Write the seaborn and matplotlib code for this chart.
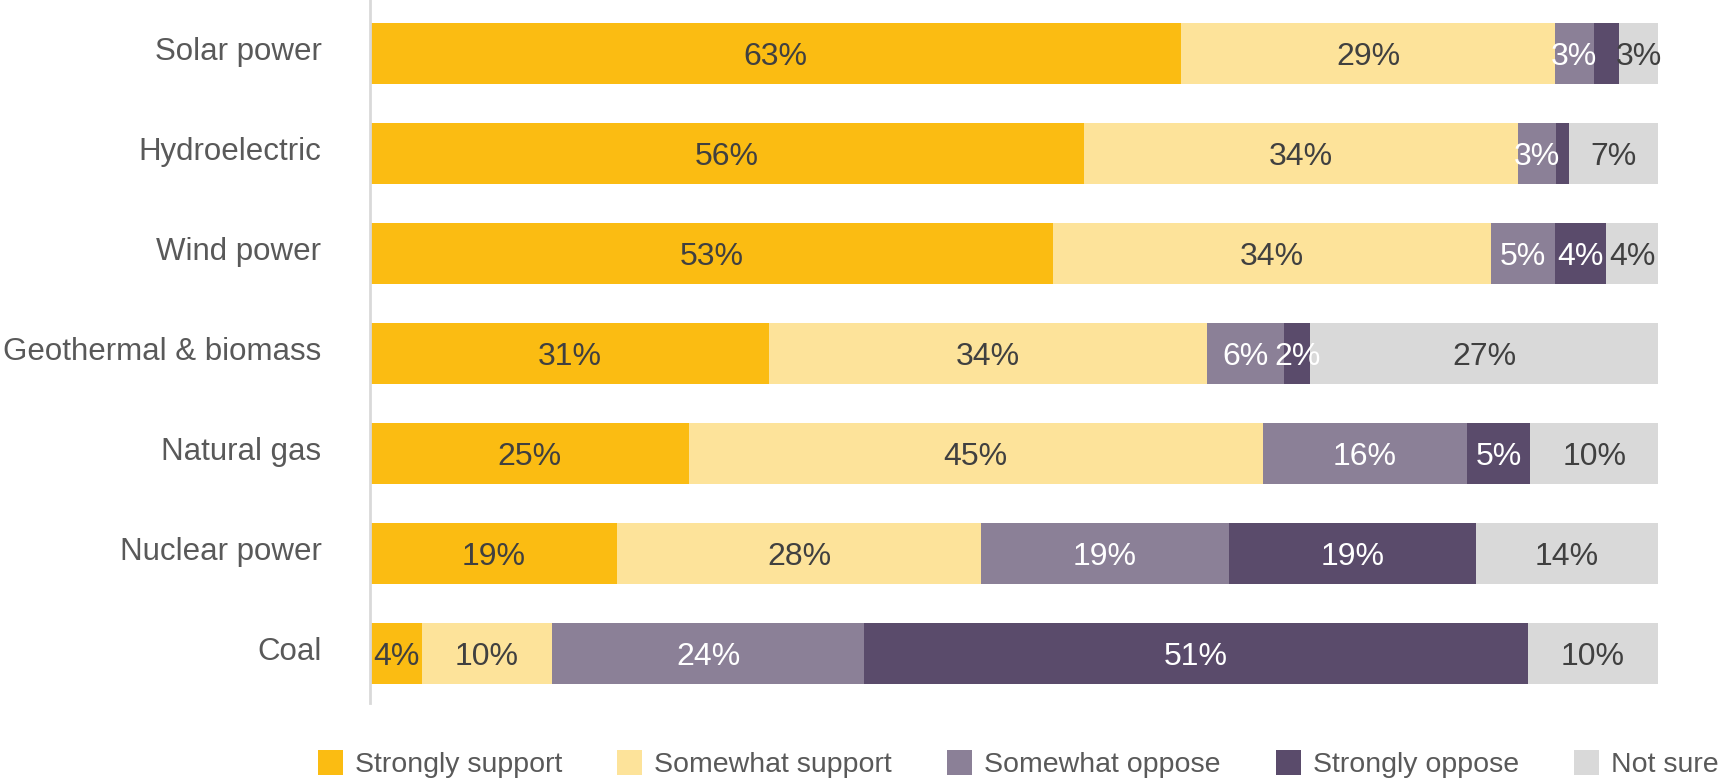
import numpy as np
import pandas as pd
import matplotlib
matplotlib.use("Agg")
import matplotlib.pyplot as plt
from matplotlib.patches import Patch
from matplotlib.transforms import ScaledTranslation
import seaborn as sns

sources = ["Solar power", "Hydroelectric", "Wind power", "Geothermal & biomass",
           "Natural gas", "Nuclear power", "Coal"]
strongly_support = [63, 56, 53, 31, 25, 19, 4]
somewhat_support = [29, 34, 34, 34, 45, 28, 10]
somewhat_oppose = [3, 3, 5, 6, 16, 19, 24]
strongly_oppose = [2, 1, 4, 2, 5, 19, 51]
not_sure = [3, 7, 4, 27, 10, 14, 10]

responses = ["Strongly support", "Somewhat support", "Somewhat oppose",
             "Strongly oppose", "Not sure"]
series = [strongly_support, somewhat_support, somewhat_oppose,
          strongly_oppose, not_sure]
colors = ["#FBBC12", "#FDE39A", "#8B8097", "#5A4B6B", "#D9D9D9"]
text_colors = ["#404040", "#404040", "#FFFFFF", "#FFFFFF", "#404040"]

# small slices that carry no value label
hidden_labels = {("Solar power", "Strongly oppose"), ("Hydroelectric", "Strongly oppose")}

sns.set_theme(style="white")
plt.rcParams["font.family"] = ["Liberation Sans", "DejaVu Sans"]

fig = plt.figure(figsize=(17.23, 7.78), dpi=100)
ax = fig.add_axes([370 / 1723, 1 - 703 / 778, (1658 - 370) / 1723, 703 / 778])

values = np.array(series, dtype=float)          # responses x sources
totals = values.sum(axis=0)
shares = values / totals * 100                   # each row rescaled to a full bar
lefts = np.vstack([np.zeros(len(sources)), np.cumsum(shares, axis=0)[:-1]])

label_shift = ScaledTranslation(0, -3.5 / 100, fig.dpi_scale_trans)
for i, resp in enumerate(responses):
    df = pd.DataFrame({"source": sources, "share": shares[i]})
    sns.barplot(data=df, x="share", y="source", order=sources, orient="h",
                color=colors[i], width=0.61, left=lefts[i], ax=ax,
                linewidth=0, saturation=1, errorbar=None)
    for j, src in enumerate(sources):
        if (src, resp) in hidden_labels:
            continue
        ax.text(lefts[i][j] + shares[i][j] / 2, j, f"{series[i][j]}%",
                ha="center", va="center", fontsize=23, color=text_colors[i],
                transform=ax.transData + label_shift)

ax.set_xlim(0, 100)
ax.set_ylim(6.5, -0.535)
ax.set_xlabel("")
ax.set_ylabel("")
ax.set_xticks([])
ax.tick_params(axis="y", length=0, pad=35, labelsize=22.5, labelcolor="#595959")
tick_shift = ScaledTranslation(0, 4.5 / 100, fig.dpi_scale_trans)
for lbl in ax.get_yticklabels():
    lbl.set_transform(lbl.get_transform() + tick_shift)
for side in ["top", "right", "bottom"]:
    ax.spines[side].set_visible(False)
ax.spines["left"].set_color("#D9D9D9")
ax.spines["left"].set_linewidth(2)

handles = [Patch(facecolor=c, edgecolor="none", label=r) for c, r in zip(colors, responses)]
leg = fig.legend(handles=handles, loc="center left",
                 bbox_to_anchor=(318 / 1723, 1 - 764 / 778), ncol=5, frameon=False,
                 fontsize=20.5, handlelength=0.88, handleheight=0.95,
                 handletextpad=0.42, columnspacing=1.93, borderpad=0, borderaxespad=0)
for t in leg.get_texts():
    t.set_color("#595959")

fig.savefig("out.png", dpi=100)
